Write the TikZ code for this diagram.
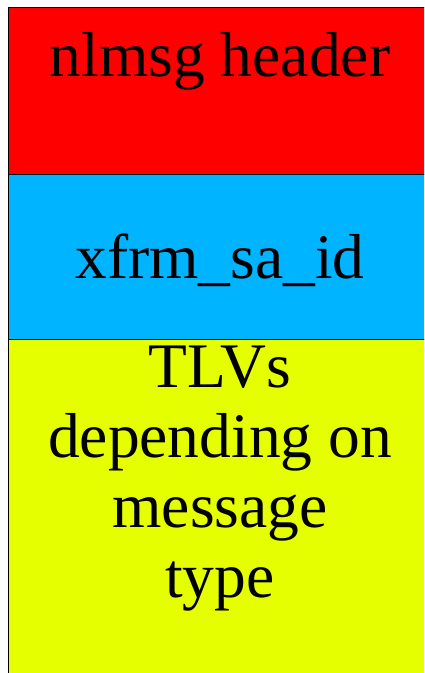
\documentclass[tikz,border=0pt]{standalone}
\usepackage{fontspec}
\setmainfont{Liberation Serif}
\definecolor{hdrred}{RGB}{255,0,0}
\definecolor{sablue}{RGB}{0,180,255}
\definecolor{tlvyellow}{RGB}{230,255,0}
\tikzset{
  field/.style={draw=black, line width=0.8pt},
  label/.style={font=\fontsize{63.5}{69.7}\selectfont, inner sep=0pt, align=center}
}
\begin{document}
\begin{tikzpicture}[x=1pt,y=-1pt]
\useasboundingbox (0,0) rectangle (424,673);
\clip (0,0) rectangle (424,673);
\fill[white] (0,0) rectangle (424,673);
\draw[field, fill=hdrred] (8,7) rectangle (440,174);
\draw[field, fill=sablue] (8,174) rectangle (440,339);
\draw[field, fill=tlvyellow] (8,339) rectangle (440,690);
\node[label, anchor=base] (hdr) at (220,76) {nlmsg header};
\node[label, anchor=base] (said) at (220,278) {xfrm\_sa\_id};
\node[label, anchor=base] (tlv) at (220,597) {TLVs\\depending on\\message\\type};
\end{tikzpicture}
\end{document}
